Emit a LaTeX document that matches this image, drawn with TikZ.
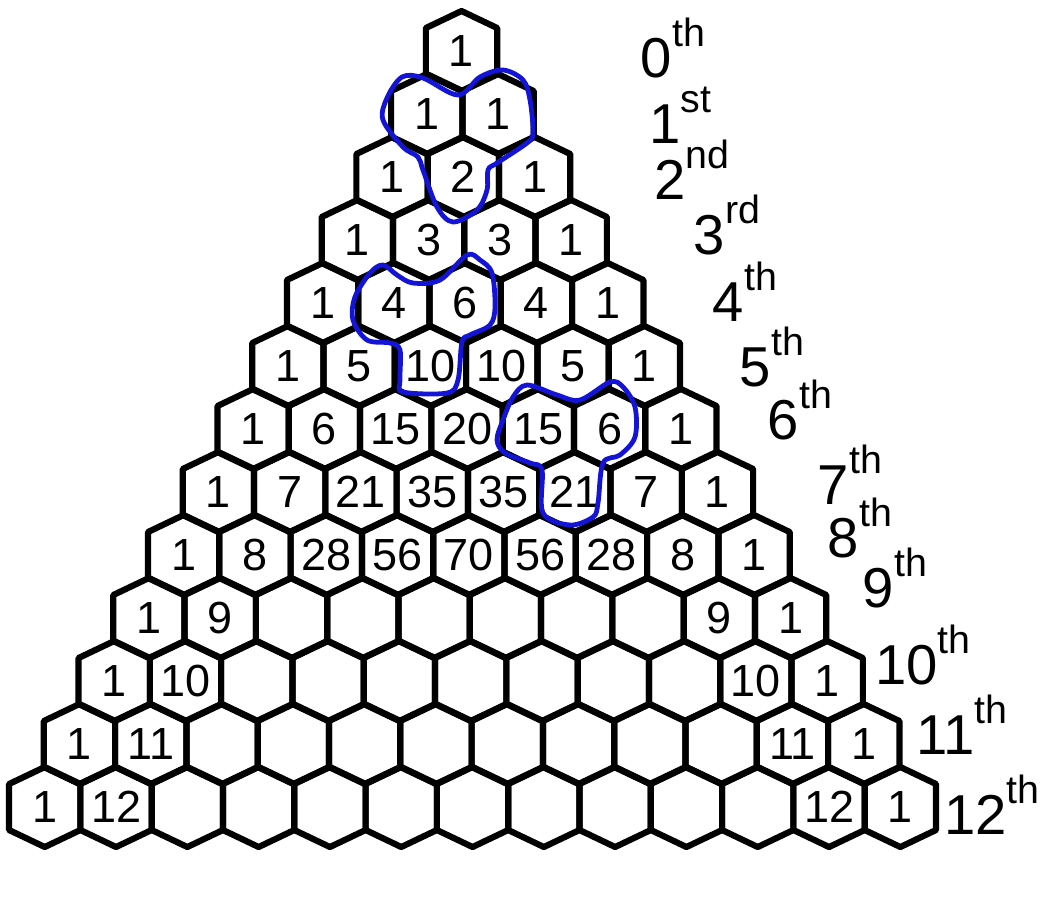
\documentclass[tikz,border=0pt]{standalone}
\usepackage{fontspec}
\setmainfont{Liberation Sans}
\definecolor{pen}{RGB}{20,20,215}
\newcommand{\ordl}[2]{#1\raisebox{0.55em}{\fontsize{28}{28}\selectfont #2}}

\begin{document}
\begin{tikzpicture}[x=0.025cm, y=-0.025cm,
  hexa/.style={draw=black, line width=4.4pt, line join=round},
  num/.style={font=\fontsize{32}{32}\selectfont, inner sep=0pt},
  rowlbl/.style={font=\fontsize{40}{40}\selectfont, inner sep=0pt},
  ring/.style={draw=pen, line width=3.4pt, line join=round}
]
\useasboundingbox (0,0) rectangle (1043,922);
% honeycomb
\foreach \r in {0,...,12}{
  \foreach \k in {0,...,\r}{
    \pgfmathsetmacro{\cx}{461.5+0.92*\r+(\k-\r/2)*71.3}
    \pgfmathsetmacro{\cy}{51+63*\r}
    \draw[hexa, shift={(\cx,\cy)}] (0,-40) -- (35.65,-23) -- (35.65,23) -- (0,40) -- (-35.65,23) -- (-35.65,-23) -- cycle;
  }
}
% full rows
\foreach \r/\vals in {0/{1},1/{1,1},2/{1,2,1},3/{1,3,3,1},4/{1,4,6,4,1},5/{1,5,10,10,5,1},
  6/{1,6,15,20,15,6,1},7/{1,7,21,35,35,21,7,1},8/{1,8,28,56,70,56,28,8,1}}{
  \foreach \v [count=\k from 0] in \vals {
    \pgfmathsetmacro{\cx}{461.5+0.92*\r+(\k-\r/2)*71.3}
    \pgfmathsetmacro{\cy}{51+63*\r}
    \node[num] (n\r-\k) at (\cx,\cy) {\v};
  }
}
% edges of the lower rows
\foreach \r/\k/\v in {9/0/1,9/1/9,9/8/9,9/9/1,10/0/1,10/1/10,10/9/10,10/10/1,
  11/0/1,11/1/11,11/10/11,11/11/1,12/0/1,12/1/12,12/11/12,12/12/1}{
  \pgfmathsetmacro{\cx}{461.5+0.92*\r+(\k-\r/2)*71.3}
  \pgfmathsetmacro{\cy}{51+63*\r}
  \node[num] (n\r-\k) at (\cx,\cy) {\v};
}
% row labels
\foreach \n/\s/\lx/\ly in {0/th/673/48,1/st/680/115,2/nd/692/170,3/rd/727/225,4/th/745/292,
  5/th/772/357,6/th/800/410,7/th/850/475,8/th/860/528,9/th/895/578,10/th/923/655,
  11/th/962/725,12/th/992/805}{
  \node[rowlbl] (lbl\n) at (\lx,\ly) {\ordl{\n}{\s}};
}
% blue loops
\draw[ring] plot[smooth cycle, tension=0.55] coordinates {(402,77) (423,78) (458,95) (480,77)
  (503,70) (523,80) (530,100) (533,133) (527,143) (497,163) (488,170) (487,190) (477,210)
  (453,222) (437,207) (423,170) (418,157) (403,147) (383,120) (387,98)};
\draw[ring] plot[smooth cycle, tension=0.55] coordinates {(383,265) (397,275) (413,283) (440,280)
  (467,255) (480,260) (492,273) (495,307) (490,325) (470,335) (462,342) (458,380) (447,393)
  (403,392) (400,380) (400,350) (390,343) (367,340) (353,320) (355,297) (370,273)};
\draw[ring] plot[smooth cycle, tension=0.55] coordinates {(527,385) (557,395) (580,400) (610,382)
  (623,387) (635,407) (635,437) (620,455) (603,463) (598,503) (593,517) (570,525) (543,513)
  (542,470) (530,463) (505,453) (497,440) (503,420) (513,397)};
\end{tikzpicture}
\end{document}
